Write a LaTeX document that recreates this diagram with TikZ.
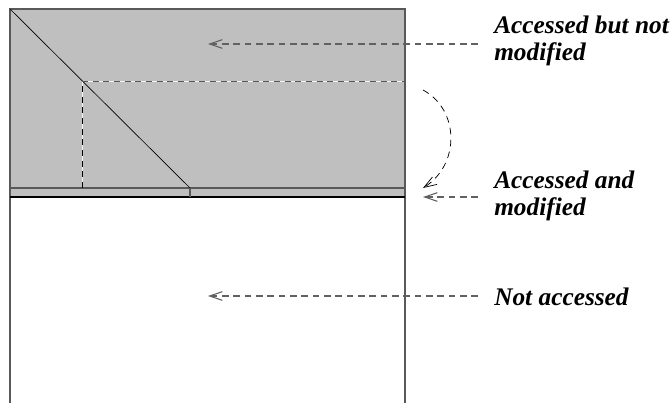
\documentclass[tikz,border=0pt]{standalone}
\usepackage{fontspec}
\setmainfont{Liberation Serif}
\usetikzlibrary{arrows.meta}
\definecolor{pagefill}{gray}{0.75}
\definecolor{framegray}{gray}{0.35}
\definecolor{pointgray}{gray}{0.38}
\tikzset{
  lbl/.style={anchor=west, inner sep=0pt, align=left,
    font=\fontsize{19}{20.5}\selectfont\bfseries\itshape},
  pointer/.style={pointgray, line width=0.8pt, dash pattern=on 5pt off 3.5pt,
    -{Straight Barb[length=9.5pt,width=6.5pt]}},
  swing/.style={black, line width=0.55pt, dash pattern=on 5pt off 4pt,
    -{Straight Barb[length=9.5pt,width=6.5pt]}},
}
\begin{document}
\begin{tikzpicture}[x=0.75pt, y=-0.75pt]
  \useasboundingbox (0,0) rectangle (670,403);

  % corner points of the page box
  \coordinate (TL) at (10,9);
  \coordinate (TR) at (405,9);
  \coordinate (BL) at (10,403);
  \coordinate (BR) at (405,403);

  \fill[pagefill] (10,9) rectangle (405,197);
  \draw[framegray, line width=0.8pt] (BL) -- (TL) -- (TR) -- (BR);
  \draw[framegray, line width=0.8pt] (10,188) -- (405,188);
  \draw[black, line width=0.8pt] (10,197) -- (405,197);

  \coordinate (D) at (190,188);
  \draw[line width=0.5pt] (TL) -- (D);
  \draw[framegray, line width=1pt] (D) -- (190,197);

  \coordinate (E) at (82,188);
  \coordinate (F) at (82,81);
  \coordinate (G) at (405,81);
  \draw[white!85!pagefill, line width=0.6pt] (E) -- (F) -- (G);
  \draw[black, line width=0.6pt, dash pattern=on 4.5pt off 3.5pt] (E) -- (F);
  \draw[framegray, line width=0.6pt, dash pattern=on 4.5pt off 3.5pt] (F) -- (G);

  % labels
  \node[lbl] (A) at (494,41) {Accessed but not\\modified};
  \node[lbl] (B) at (494,196) {Accessed and\\modified};
  \node[lbl] (C) at (494,297) {Not accessed};

  \coordinate (A1) at (478,44);
  \coordinate (A2) at (208,44);
  \coordinate (B1) at (478,197);
  \coordinate (B2) at (423,197);
  \coordinate (C1) at (478,296);
  \coordinate (C2) at (208,296);
  \draw[pointer] (A1) -- (A2);
  \draw[pointer] (B1) -- (B2);
  \draw[pointer] (C1) -- (C2);

  \coordinate (S1) at (423,90);
  \coordinate (S2) at (423,188);
  \draw[swing] (S1) .. controls (460,110) and (460,165) .. (S2);
\end{tikzpicture}
\end{document}
